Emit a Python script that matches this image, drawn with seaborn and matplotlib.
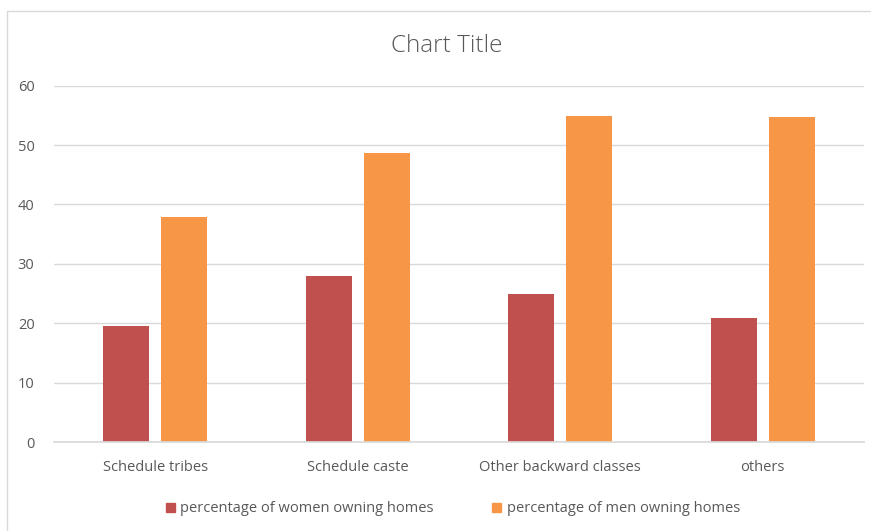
import matplotlib
matplotlib.use("Agg")
import matplotlib.pyplot as plt
import seaborn as sns
import pandas as pd
from matplotlib.patches import Rectangle

categories = ["Schedule tribes", "Schedule caste", "Other backward classes", "others"]
series_names = ["percentage of women owning homes", "percentage of men owning homes"]
women = [19.5, 28.0, 25.0, 20.8]
men = [37.9, 48.7, 54.9, 54.7]
yticks = [0, 10, 20, 30, 40, 50, 60]
colors = ["#C0504D", "#F79646"]

df = pd.DataFrame({
    "category": categories * 2,
    "series": [series_names[0]] * 4 + [series_names[1]] * 4,
    "value": women + men,
})

sns.set_theme(style="white")
plt.rcParams["font.family"] = ["Open Sans", "DejaVu Sans"]

fig = plt.figure(figsize=(8.71, 5.31), dpi=100)
ax = fig.add_axes([54 / 871, 89 / 531, 810 / 871, (442 - 85.7) / 531])

sns.barplot(data=df, x="category", y="value", hue="series", palette=colors,
            width=0.573, gap=0.207, ax=ax, legend=False, saturation=1,
            edgecolor="none")

ax.set_ylim(0, 60)
ax.set_xlim(-0.5, 3.5)
ax.set_yticks(yticks)
ax.set_yticklabels([str(t) for t in yticks])
ax.set_xlabel("")
ax.set_ylabel("")
ax.grid(axis="y", color="#D9D9D9", linewidth=1)
ax.set_axisbelow(True)
for s in ["top", "right", "left"]:
    ax.spines[s].set_visible(False)
ax.spines["bottom"].set_color("#D9D9D9")
ax.tick_params(axis="y", length=0, pad=14, labelsize=10.5, labelcolor="#595959")
ax.tick_params(axis="x", length=0, pad=13, labelsize=10.5, labelcolor="#595959")

fig.text(447 / 871, 1 - 46 / 531, "Chart Title", ha="center", va="center",
         fontsize=17.5, color="#595959", fontweight="light")

handles = [Rectangle((0, 0), 1, 1, color=c) for c in colors]
fig.legend(handles, series_names, loc="center", bbox_to_anchor=(453 / 871, 1 - 509 / 531),
           ncol=2, frameon=False, fontsize=10.5, labelcolor="#595959",
           handlelength=0.6, handleheight=0.6, handletextpad=0.4, columnspacing=4.0)

fig.patches.append(Rectangle((7 / 871, -0.1), 1.2, 1 - 11 / 531 + 0.1,
                             transform=fig.transFigure, fill=False,
                             edgecolor="#D9D9D9", linewidth=1))

fig.savefig("out.png", dpi=100)
